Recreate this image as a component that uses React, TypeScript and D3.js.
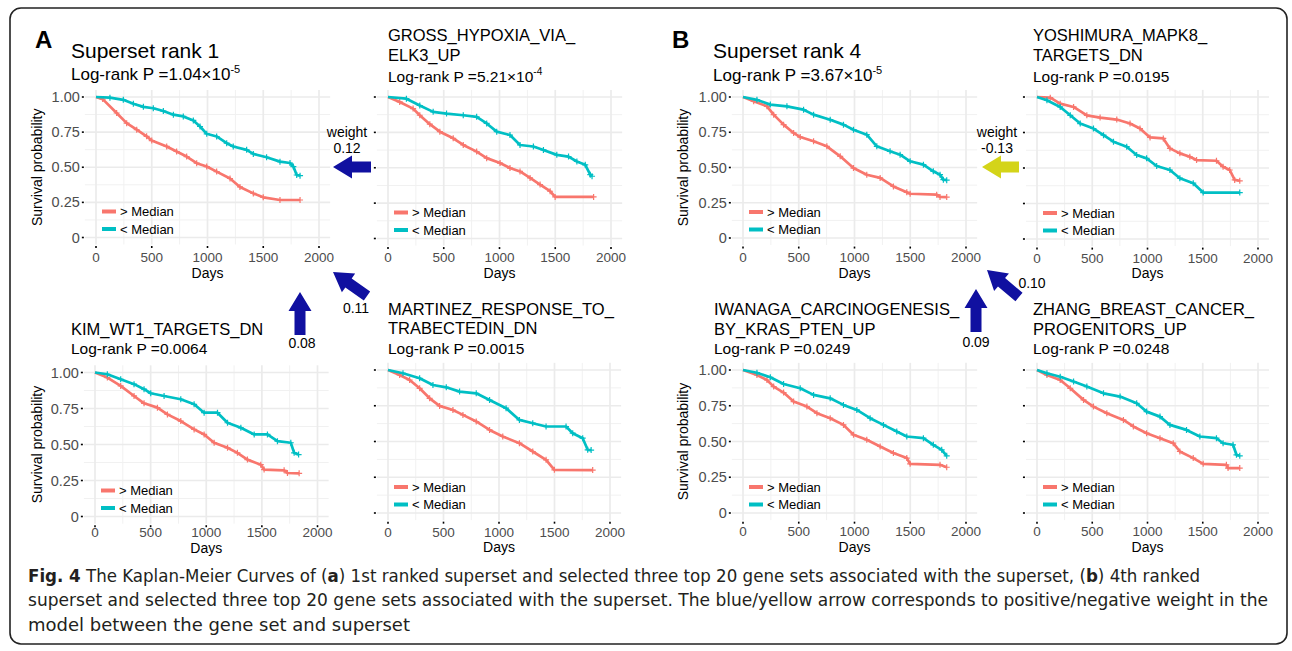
import React from 'react';
import * as d3 from 'd3';

const W = 1292;
const H = 651;
const RED = '#F8766D';
const TEAL = '#00BFC4';
const BLUE = '#1010a0';
const YELLOW = '#d4d419';
const FONT = "'Liberation Sans', Arial, Helvetica, sans-serif";

const dayTicks = [0, 500, 1000, 1500, 2000];
const dayMinor = [250, 750, 1250, 1750];
const probTicks = [0, 0.25, 0.5, 0.75, 1];
const probMinor = [0.125, 0.375, 0.625, 0.875];
const probLabels = ['0', '0.25', '0.50', '0.75', '1.00'];
const legendLabels = ['> Median', '< Median'];

// [day, survival probability]
const a1High = [[0,1],[60,0.985],[185,0.886],[275,0.814],[365,0.767],[454,0.72],[500,0.69],[634,0.648],[723,0.612],[813,0.576],[903,0.529],[993,0.505],[1082,0.469],[1202,0.42],[1291,0.36],[1411,0.314],[1500,0.286],[1650,0.267],[1830,0.267]];
const a1Low = [[0,1],[125,0.995],[245,0.98],[335,0.952],[425,0.93],[514,0.92],[604,0.9],[694,0.874],[783,0.862],[873,0.833],[933,0.79],[993,0.738],[1082,0.719],[1172,0.671],[1231,0.648],[1351,0.624],[1411,0.595],[1530,0.571],[1650,0.54],[1740,0.53],[1770,0.505],[1800,0.445],[1830,0.44]];
const a2High = [[0,1],[105,0.965],[225,0.918],[285,0.871],[375,0.808],[465,0.755],[585,0.708],[675,0.661],[795,0.614],[885,0.568],[1005,0.533],[1094,0.498],[1184,0.474],[1274,0.428],[1364,0.381],[1454,0.334],[1499,0.294],[1844,0.294]];
const a2Low = [[0,1],[165,0.988],[285,0.94],[405,0.895],[525,0.883],[675,0.871],[795,0.86],[885,0.813],[975,0.755],[1094,0.731],[1184,0.661],[1304,0.65],[1394,0.626],[1514,0.591],[1619,0.579],[1694,0.544],[1769,0.521],[1814,0.451],[1830,0.44]];
const a3High = [[0,1],[111,0.965],[231,0.907],[351,0.837],[441,0.786],[561,0.756],[651,0.709],[771,0.663],[891,0.605],[981,0.57],[1071,0.512],[1191,0.477],[1280,0.442],[1370,0.395],[1490,0.36],[1520,0.326],[1700,0.321],[1730,0.302],[1835,0.3]];
const a3Low = [[0,1],[111,0.988],[231,0.953],[351,0.919],[441,0.884],[501,0.856],[621,0.837],[771,0.814],[891,0.779],[981,0.721],[1101,0.721],[1191,0.651],[1311,0.616],[1431,0.57],[1550,0.57],[1640,0.523],[1760,0.512],[1790,0.442],[1830,0.43]];
const a4High = [[0,1],[105,0.965],[195,0.93],[285,0.872],[375,0.802],[465,0.749],[585,0.72],[675,0.686],[795,0.64],[915,0.581],[1034,0.535],[1184,0.488],[1304,0.43],[1424,0.372],[1499,0.302],[1844,0.3]];
const a4Low = [[0,1],[135,0.977],[285,0.942],[405,0.895],[525,0.879],[645,0.849],[795,0.837],[915,0.79],[1064,0.733],[1184,0.651],[1304,0.628],[1424,0.605],[1604,0.605],[1664,0.558],[1754,0.523],[1799,0.442],[1830,0.44]];
const b1High = [[0,1],[96,0.97],[215,0.934],[275,0.875],[364,0.804],[454,0.745],[513,0.716],[633,0.686],[752,0.65],[872,0.579],[991,0.496],[1110,0.449],[1230,0.426],[1349,0.366],[1469,0.324],[1499,0.314],[1737,0.307],[1767,0.291],[1827,0.29]];
const b1Low = [[0,1],[125,0.98],[245,0.946],[394,0.934],[543,0.91],[633,0.875],[782,0.839],[901,0.804],[991,0.768],[1110,0.733],[1200,0.65],[1319,0.615],[1409,0.591],[1499,0.544],[1618,0.52],[1707,0.473],[1767,0.449],[1797,0.414],[1827,0.41]];
const b2High = [[0,1],[120,0.995],[210,0.953],[331,0.93],[451,0.871],[571,0.855],[722,0.841],[842,0.813],[932,0.778],[1023,0.715],[1143,0.708],[1203,0.638],[1293,0.603],[1383,0.579],[1444,0.556],[1624,0.551],[1684,0.509],[1744,0.486],[1789,0.416],[1835,0.41]];
const b2Low = [[0,1],[90,0.977],[210,0.93],[301,0.871],[391,0.813],[511,0.778],[602,0.731],[692,0.685],[812,0.65],[902,0.591],[992,0.568],[1083,0.514],[1203,0.486],[1293,0.428],[1414,0.393],[1504,0.327],[1835,0.327]];
const b3High = [[0,1],[125,0.965],[215,0.93],[275,0.884],[364,0.842],[454,0.779],[573,0.744],[663,0.698],[782,0.663],[901,0.616],[991,0.547],[1110,0.512],[1230,0.465],[1349,0.419],[1469,0.384],[1499,0.344],[1767,0.337],[1827,0.32]];
const b3Low = [[0,1],[125,0.981],[245,0.949],[364,0.902],[513,0.872],[633,0.826],[782,0.802],[901,0.756],[1021,0.721],[1140,0.663],[1260,0.616],[1379,0.57],[1469,0.535],[1618,0.523],[1707,0.477],[1782,0.442],[1827,0.4]];
const b4High = [[0,1],[90,0.965],[210,0.93],[301,0.872],[421,0.791],[511,0.744],[632,0.698],[782,0.651],[872,0.605],[992,0.558],[1113,0.523],[1233,0.488],[1293,0.43],[1414,0.384],[1504,0.344],[1714,0.337],[1729,0.314],[1835,0.314]];
const b4Low = [[0,1],[90,0.977],[210,0.953],[331,0.919],[451,0.884],[602,0.837],[752,0.814],[902,0.767],[992,0.709],[1113,0.674],[1203,0.616],[1353,0.581],[1474,0.535],[1624,0.523],[1684,0.488],[1774,0.477],[1805,0.407],[1835,0.4]];

const panels = [
  { title: ['Superset rank 1'], p: '1.04×10', exp: '-5', big: true, high: a1High, low: a1Low,
    x0: 96, x1: 319, yb: 237.5, yt: 97, tx: 71, ty: [58, 80], xlab: 257, days: 273, ylab: 37 },
  { title: ['GROSS_HYPOXIA_VIA_', 'ELK3_UP'], p: '5.21×10', exp: '-4', high: a2High, low: a2Low,
    x0: 388, x1: 611, yb: 238.5, yt: 97, tx: 388, ty: [41, 61, 82], xlab: 257, days: 273 },
  { title: ['KIM_WT1_TARGETS_DN'], p: '0.0064', high: a3High, low: a3Low,
    x0: 95, x1: 317.5, yb: 516.5, yt: 372.5, tx: 71, ty: [335, 354], xlab: 532, days: 548, ylab: 37 },
  { title: ['MARTINEZ_RESPONSE_TO_', 'TRABECTEDIN_DN'], p: '0.0015', high: a4High, low: a4Low,
    x0: 388, x1: 610, yb: 513, yt: 370, tx: 388, ty: [315, 334, 354], xlab: 532, days: 547 },
  { title: ['Superset rank 4'], p: '3.67×10', exp: '-5', big: true, high: b1High, low: b1Low,
    x0: 743, x1: 966, yb: 238, yt: 97, tx: 713, ty: [58, 81], xlab: 257, days: 273, ylab: 683 },
  { title: ['YOSHIMURA_MAPK8_', 'TARGETS_DN'], p: '0.0195', high: b2High, low: b2Low,
    x0: 1037, x1: 1258, yb: 239, yt: 97, tx: 1033, ty: [41, 61, 82], xlab: 258, days: 273 },
  { title: ['IWANAGA_CARCINOGENESIS_', 'BY_KRAS_PTEN_UP'], p: '0.0249', high: b3High, low: b3Low,
    x0: 743, x1: 966, yb: 513, yt: 370, tx: 714, ty: [315, 335, 354], xlab: 531, days: 547, ylab: 683 },
  { title: ['ZHANG_BREAST_CANCER_', 'PROGENITORS_UP'], p: '0.0248', high: b4High, low: b4Low,
    x0: 1037, x1: 1258, yb: 513, yt: 370, tx: 1033, ty: [315, 335, 354], xlab: 531, days: 547 },
];

const arrows = [
  { tip: [333, 167], tail: [371, 167], color: BLUE },
  { tip: [333, 272], tail: [367, 296], color: BLUE },
  { tip: [300, 292], tail: [300, 335], color: BLUE },
  { tip: [982, 167], tail: [1019, 167], color: YELLOW },
  { tip: [987, 270], tail: [1019, 297], color: BLUE },
  { tip: [976, 289], tail: [976, 332], color: BLUE },
];
const weightLabels = [
  { x: 347, y: 137, t: 'weight' }, { x: 347, y: 153, t: '0.12' },
  { x: 356, y: 313, t: '0.11' }, { x: 302, y: 348, t: '0.08' },
  { x: 997, y: 137, t: 'weight' }, { x: 997, y: 153, t: '-0.13' },
  { x: 1032, y: 288, t: '0.10' }, { x: 976, y: 347, t: '0.09' },
];

function arrowPoints(tip, tail) {
  const [tx, ty] = tip, [sx, sy] = tail;
  const L = Math.hypot(tx - sx, ty - sy);
  const ux = (tx - sx) / L, uy = (ty - sy) / L;
  const nx = -uy, ny = ux;
  const sw = 5.5, hw = 11.5, hl = 19;
  const bx = tx - ux * hl, by = ty - uy * hl;
  const pts = [
    [sx + nx * sw, sy + ny * sw], [bx + nx * sw, by + ny * sw], [bx + nx * hw, by + ny * hw],
    [tx, ty], [bx - nx * hw, by - ny * hw], [bx - nx * sw, by - ny * sw], [sx - nx * sw, sy - ny * sw],
  ];
  return pts.map(p => p.join(',')).join(' ');
}

function Panel({ p }) {
  const x = d3.scaleLinear().domain([0, 2000]).range([p.x0, p.x1]);
  const y = d3.scaleLinear().domain([0, 1]).range([p.yb, p.yt]);
  const left = x(-100), right = x(2100), top = y(1.05), bottom = y(-0.05);
  const line = d3.line().x(d => x(d[0])).y(d => y(d[1]));
  const titleSize = p.big ? 21 : 16.5;
  const pSize = p.big ? 17 : 15.5;
  const nT = p.title.length;
  return (
    <g>
      {p.title.map((t, i) => (
        <text key={i} x={p.tx} y={p.ty[i]} fontSize={titleSize}>{t}</text>
      ))}
      <text x={p.tx} y={p.ty[nT]} fontSize={pSize}>
        {'Log-rank P =' + p.p}
        {p.exp && <tspan fontSize={pSize * 0.65} dy={-pSize * 0.42}>{p.exp}</tspan>}
      </text>
      {dayMinor.map(d => <line key={'xm' + d} x1={x(d)} x2={x(d)} y1={top} y2={bottom} stroke="#f1f1f1" strokeWidth={1} />)}
      {probMinor.map(v => <line key={'ym' + v} x1={left} x2={right} y1={y(v)} y2={y(v)} stroke="#f1f1f1" strokeWidth={1} />)}
      {dayTicks.map(d => <line key={'x' + d} x1={x(d)} x2={x(d)} y1={top} y2={bottom} stroke="#ebebeb" strokeWidth={1.7} />)}
      {probTicks.map(v => <line key={'y' + v} x1={left} x2={right} y1={y(v)} y2={y(v)} stroke="#ebebeb" strokeWidth={1.7} />)}
      {probTicks.map(v => <line key={'yt' + v} x1={left - 3} x2={left - 1} y1={y(v)} y2={y(v)} stroke="#000" strokeWidth={1.6} />)}
      {dayTicks.map(d => <line key={'xt' + d} x1={x(d)} x2={x(d)} y1={bottom + 1.5} y2={bottom + 3.5} stroke="#000" strokeWidth={1.6} />)}
      {p.ylab !== undefined && probTicks.map((v, i) => (
        <text key={'yl' + v} x={left - 5} y={y(v)} dy="0.35em" textAnchor="end" fontSize={14.5} fill="#4d4d4d">{probLabels[i]}</text>
      ))}
      {dayTicks.map(d => (
        <text key={'xl' + d} x={x(d)} y={p.xlab} dy="0.35em" textAnchor="middle" fontSize={13.5} fill="#4d4d4d">{d}</text>
      ))}
      <text x={x(1000)} y={p.days} dy="0.35em" textAnchor="middle" fontSize={14}>Days</text>
      {p.ylab !== undefined && (
        <text transform={`translate(${p.ylab},${(p.yt + p.yb) / 2}) rotate(-90)`} dy="0.35em" textAnchor="middle" fontSize={14}>Survival probability</text>
      )}
      {[[p.high, RED], [p.low, TEAL]].map(([data, c], k) => (
        <g key={k}>
          <path d={line(data)} fill="none" stroke={c} strokeWidth={2.7} strokeLinejoin="round" />
          {data.slice(1).map((d, i) => (
            <path key={i} d={`M${x(d[0]) - 3},${y(d[1])}h6M${x(d[0])},${y(d[1]) - 3}v6`} stroke={c} strokeWidth={1.2} />
          ))}
        </g>
      ))}
      {legendLabels.map((t, i) => (
        <g key={t}>
          <line x1={p.x0 + 6} x2={p.x0 + 20} y1={p.yb - 26 + i * 17.5} y2={p.yb - 26 + i * 17.5} stroke={i === 0 ? RED : TEAL} strokeWidth={4} />
          <text x={p.x0 + 24} y={p.yb - 26 + i * 17.5} dy="0.35em" fontSize={13}>{t}</text>
        </g>
      ))}
    </g>
  );
}

export default function App() {
  return (
    <svg width={W} height={H} style={{ position: 'absolute', left: 0, top: 0, background: '#fff' }} fontFamily={FONT}>
      <rect x={0} y={0} width={W} height={H} fill="#fff" />
      <rect x={10} y={8} width={1277} height={636} rx={11} fill="none" stroke="#222" strokeWidth={1.6} />
      <text x={35} y={48} fontSize={24} fontWeight="bold">A</text>
      <text x={672} y={48} fontSize={24} fontWeight="bold">B</text>
      {panels.map((p, i) => <Panel key={i} p={p} />)}
      {arrows.map((a, i) => <polygon key={i} points={arrowPoints(a.tip, a.tail)} fill={a.color} />)}
      {weightLabels.map((l, i) => (
        <text key={i} x={l.x} y={l.y} textAnchor="middle" fontSize={14}>{l.t}</text>
      ))}
      <g fontFamily="'Liberation Sans Narrow', 'DejaVu Sans Condensed', 'Liberation Sans', sans-serif" fontSize={18} fill="#231f20">
        <text x={28} y={582} textLength={1172} lengthAdjust="spacingAndGlyphs">
          <tspan fontWeight="bold">Fig. 4</tspan> The Kaplan-Meier Curves of (<tspan fontWeight="bold">a</tspan>) 1st ranked superset and selected three top 20 gene sets associated with the superset, (<tspan fontWeight="bold">b</tspan>) 4th ranked
        </text>
        <text x={28} y={606} textLength={1240} lengthAdjust="spacingAndGlyphs">
          superset and selected three top 20 gene sets associated with the superset. The blue/yellow arrow corresponds to positive/negative weight in the
        </text>
        <text x={28} y={631} textLength={382} lengthAdjust="spacingAndGlyphs">model between the gene set and superset</text>
      </g>
    </svg>
  );
}
